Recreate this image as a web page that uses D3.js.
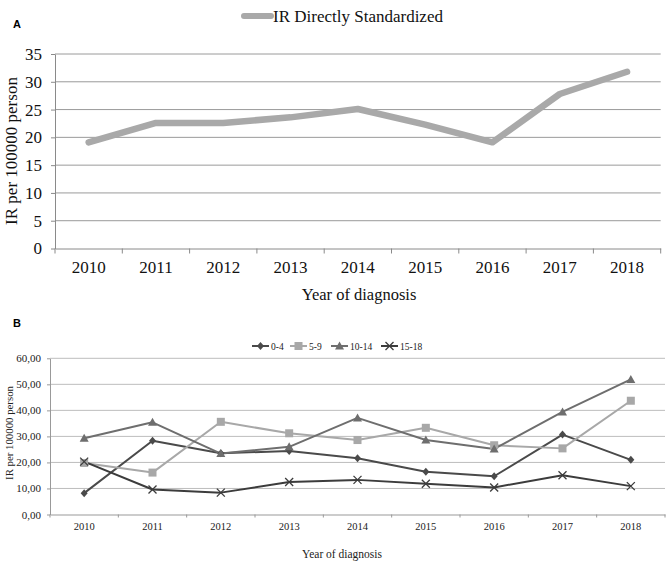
<!DOCTYPE html>
<html><head><meta charset="utf-8">
<script src="https://cdn.jsdelivr.net/npm/d3@7"></script>
<style>body{margin:0;background:#fff}svg{display:block}
.serif{font-family:"Liberation Serif","Times New Roman",Times,"DejaVu Serif",serif}
.sans{font-family:"Liberation Sans",Arial,sans-serif}</style>
</head><body>
<svg id="c" width="669" height="565"></svg>
<script>
const years = ["2010","2011","2012","2013","2014","2015","2016","2017","2018"];
const irStandardized = [19.1, 22.6, 22.6, 23.6, 25.1, 22.3, 19.1, 27.8, 31.8];
const ticksA = [0,5,10,15,20,25,30,35];
const ageGroups = ["0-4","5-9","10-14","15-18"];
const age0_4   = [8.2, 28.3, 23.5, 24.4, 21.6, 16.4, 14.7, 30.7, 21.0];
const age5_9   = [19.8, 16.1, 35.6, 31.2, 28.6, 33.3, 26.6, 25.4, 43.7];
const age10_14 = [29.3, 35.4, 23.4, 26.0, 37.1, 28.6, 25.2, 39.4, 51.9];
const age15_18 = [20.3, 9.6, 8.4, 12.5, 13.3, 11.8, 10.4, 15.1, 10.9];
const ticksB = [0,10,20,30,40,50,60];

const svg = d3.select("#c");

// Panel labels
svg.append("text").attr("class","sans").attr("x",13).attr("y",28).text("A")
  .attr("font-weight","bold").attr("font-size",11);
svg.append("text").attr("class","sans").attr("x",13).attr("y",327).text("B")
  .attr("font-weight","bold").attr("font-size",11);

// ---------- Chart A ----------
const xA = d3.scaleBand().domain(years).range([55, 660.7]).padding(0);
const yA = d3.scaleLinear().domain([0,35]).range([248.5, 54]);
const gA = svg.append("g");
gA.selectAll("line.grid").data(ticksA.filter(d=>d>0)).join("line")
  .attr("x1",xA.range()[0]).attr("x2",xA.range()[1])
  .attr("y1",d=>yA(d)).attr("y2",d=>yA(d))
  .attr("stroke","#9a9a9a").attr("stroke-width",1);
const yAxA = gA.append("g").attr("transform",`translate(${xA.range()[0]},0)`)
  .call(d3.axisLeft(yA).tickValues(ticksA).tickSize(4).tickSizeOuter(0).tickPadding(9));
yAxA.attr("font-family",null);
yAxA.select(".domain").attr("stroke","#8a8a8a");
yAxA.selectAll(".tick line").attr("stroke","#8a8a8a");
yAxA.selectAll("text").attr("class","serif").attr("font-size",17).attr("fill","#111");
const xAxA = gA.append("g").attr("transform",`translate(0,${yA(0)})`)
  .call(d3.axisBottom(xA).tickSize(0).tickPadding(12));
xAxA.attr("font-family",null);
xAxA.select(".domain").attr("stroke","#8a8a8a");
xAxA.selectAll("text").attr("class","serif").attr("font-size",17).attr("fill","#111");
gA.selectAll("line.xt").data(years.map(d=>xA(d)).concat([xA.range()[1]])).join("line")
  .attr("x1",d=>d).attr("x2",d=>d).attr("y1",yA(0)).attr("y2",yA(0)+5)
  .attr("stroke","#8a8a8a");
gA.append("path").datum(irStandardized)
  .attr("d", d3.line().x((d,i)=>xA(years[i])+xA.bandwidth()/2).y(d=>yA(d)))
  .attr("fill","none").attr("stroke","#a9a9a9").attr("stroke-width",6.5)
  .attr("stroke-linejoin","round").attr("stroke-linecap","round");
gA.append("text").attr("class","serif").attr("transform","translate(17,151) rotate(-90)")
  .attr("text-anchor","middle").attr("font-size",17).attr("fill","#111")
  .text("IR per 100000 person");
gA.append("text").attr("class","serif").attr("x",359).attr("y",300).attr("text-anchor","middle")
  .attr("font-size",16.5).attr("fill","#111").text("Year of diagnosis");
gA.append("line").attr("x1",244).attr("x2",271).attr("y1",16).attr("y2",16)
  .attr("stroke","#a9a9a9").attr("stroke-width",6).attr("stroke-linecap","round");
gA.append("text").attr("class","serif").attr("x",273).attr("y",22).attr("font-size",17)
  .attr("fill","#111").text("IR Directly Standardized");

// ---------- Chart B ----------
const xB = d3.scaleBand().domain(years).range([50, 665]).padding(0);
const yB = d3.scaleLinear().domain([0,60]).range([514.5, 358.3]);
const gB = svg.append("g");
gB.selectAll("line.grid").data(ticksB.filter(d=>d>0)).join("line")
  .attr("x1",xB.range()[0]).attr("x2",xB.range()[1])
  .attr("y1",d=>yB(d)).attr("y2",d=>yB(d))
  .attr("stroke","#bdbdbd").attr("stroke-width",1);
const fmt = d => d.toFixed(2).replace(".", ",");
const yAxB = gB.append("g").attr("transform",`translate(${xB.range()[0]},0)`)
  .call(d3.axisLeft(yB).tickValues(ticksB).tickFormat(fmt).tickSize(3).tickSizeOuter(0).tickPadding(6));
yAxB.attr("font-family",null);
yAxB.select(".domain").attr("stroke","#999");
yAxB.selectAll(".tick line").attr("stroke","#999");
yAxB.selectAll("text").attr("class","serif").attr("font-size",11).attr("fill","#222");
const xAxB = gB.append("g").attr("transform",`translate(0,${yB(0)})`)
  .call(d3.axisBottom(xB).tickSize(0).tickPadding(8));
xAxB.attr("font-family",null);
xAxB.select(".domain").attr("stroke","#999");
xAxB.selectAll("text").attr("class","serif").attr("font-size",10.5).attr("fill","#222");
gB.selectAll("line.xt").data(years.map(d=>xB(d)).concat([xB.range()[1]])).join("line")
  .attr("x1",d=>d).attr("x2",d=>d).attr("y1",yB(0)).attr("y2",yB(0)+3)
  .attr("stroke","#999");

const seriesB = [
  {name:ageGroups[0], values:age0_4,   color:"#4a4a4a", marker:"diamond"},
  {name:ageGroups[1], values:age5_9,   color:"#a8a8a8", marker:"square"},
  {name:ageGroups[2], values:age10_14, color:"#6e6e6e", marker:"triangle"},
  {name:ageGroups[3], values:age15_18, color:"#3c3c3c", marker:"x"}
];
function drawMarker(g, type, x, y, color){
  if(type==="diamond"){
    g.append("path").attr("d",`M${x},${y-4}L${x+3.5},${y}L${x},${y+4}L${x-3.5},${y}Z`).attr("fill",color);
  } else if(type==="square"){
    g.append("rect").attr("x",x-4).attr("y",y-4).attr("width",8).attr("height",8).attr("fill",color);
  } else if(type==="triangle"){
    g.append("path").attr("d",`M${x},${y-4.5}L${x+4.5},${y+3.5}L${x-4.5},${y+3.5}Z`).attr("fill",color);
  } else {
    g.append("path").attr("d",`M${x-4},${y-4}L${x+4},${y+4}M${x-4},${y+4}L${x+4},${y-4}`)
      .attr("stroke",color).attr("stroke-width",1.3).attr("fill","none");
  }
}
const lineB = d3.line().x((d,i)=>xB(years[i])+xB.bandwidth()/2).y(d=>yB(d));
seriesB.forEach(s=>{
  gB.append("path").datum(s.values).attr("d",lineB).attr("fill","none")
    .attr("stroke",s.color).attr("stroke-width",2).attr("stroke-linejoin","round");
});
seriesB.forEach(s=>{
  s.values.forEach((v,i)=>drawMarker(gB, s.marker, xB(years[i])+xB.bandwidth()/2, yB(v), s.color));
});
gB.append("text").attr("class","serif").attr("transform","translate(13,433) rotate(-90)")
  .attr("text-anchor","middle").attr("font-size",10.8).attr("fill","#222")
  .text("IR per 100000 person");
gB.append("text").attr("class","serif").attr("x",342).attr("y",558).attr("text-anchor","middle")
  .attr("font-size",11.5).attr("fill","#222").text("Year of diagnosis");
const legX = [252, 290, 331, 381];
seriesB.forEach((s,i)=>{
  const x0 = legX[i], yL = 346;
  gB.append("line").attr("x1",x0).attr("x2",x0+17).attr("y1",yL).attr("y2",yL)
    .attr("stroke",s.color).attr("stroke-width",2);
  drawMarker(gB, s.marker, x0+8.5, yL, s.color);
  gB.append("text").attr("class","serif").attr("x",x0+19).attr("y",yL+3.5)
    .attr("font-size",9.5).attr("fill","#222").text(s.name);
});
</script>
</body></html>
